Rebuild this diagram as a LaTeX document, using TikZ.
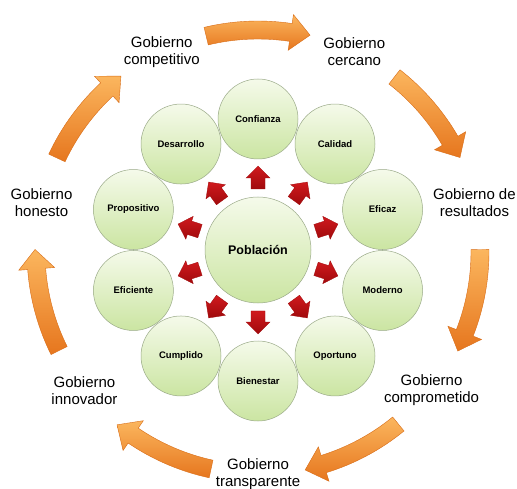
\documentclass[tikz,border=0pt]{standalone}
\usepackage{fontspec}
\setmainfont{Liberation Sans}
\usetikzlibrary{calc}
\definecolor{bubbletop}{HTML}{F5FAEA}
\definecolor{bubblebot}{HTML}{CBE5A2}
\definecolor{bubbleline}{HTML}{9AAA88}
\definecolor{orlight}{HTML}{FBB65E}
\definecolor{ordark}{HTML}{E6761E}
\definecolor{orline}{HTML}{D86C16}
\definecolor{redlight}{HTML}{D01A1E}
\definecolor{reddark}{HTML}{A00A0C}
\begin{document}
\begin{tikzpicture}[x=1pt,y=1pt,
  lab/.style={align=center, font=\fontsize{15}{17}\selectfont, text=black, inner sep=0pt},
  bubble/.style={circle, minimum size=80pt, inner sep=0pt, draw=bubbleline, line width=0.5pt,
    top color=bubbletop, bottom color=bubblebot, text=black,
    font=\fontsize{9.5}{11}\selectfont\bfseries},
  core/.style={bubble, minimum size=106pt, font=\fontsize{12.5}{14}\selectfont\bfseries},
  redarrow/.style={top color=redlight, bottom color=reddark, draw=reddark, line width=0.3pt},
  orangearrow/.style={top color=orlight, bottom color=ordark, draw=orline, line width=0.4pt}
]
\useasboundingbox (0,0) rectangle (517,488);
\fill[white] (0,0) rectangle (517,488);

\coordinate (O) at (258,236);
\coordinate (M) at (258,238);

% outer curved orange arrows
\foreach \a in {90,38.57,-12.86,-64.29,-115.71,-167.14,141.43} {
  \pgfmathsetmacro\s{\a+13.5}
  \pgfmathsetmacro\e{\a-13.5}
  \pgfmathsetmacro\b{\e+5}
  \path[orangearrow]
    ([shift={(O)}]\s:231) arc[start angle=\s, end angle=\b, radius=231]
    -- ([shift={(O)}]\b:240) -- ([shift={(O)}]\e:223) -- ([shift={(O)}]\b:204)
    -- ([shift={(O)}]\b:213) arc[start angle=\b, end angle=\s, radius=213] -- cycle;
}

% outer labels
\node[lab] (L1) at ([shift={(O)}]115.71:222) {Gobierno\\competitivo};
\node[lab] (L2) at ([shift={(O)}]64.29:222) {Gobierno\\cercano};
\node[lab] (L3) at ([shift={(O)}]12.86:222) {Gobierno de\\resultados};
\node[lab] (L4) at ([shift={(O)}]-38.57:222) {Gobierno\\comprometido};
\node[lab] (L5) at ([shift={(O)}]-90:222) {Gobierno\\transparente};
\node[lab] (L6) at ([shift={(O)}]-141.43:222) {Gobierno\\innovador};
\node[lab] (L7) at ([shift={(O)}]167.14:222) {Gobierno\\honesto};

% red block arrows
\foreach \k in {0,...,9} {
  \pgfmathsetmacro\r{90-36*\k}
  \path[redarrow, shift={(M)}, rotate=\r]
    (61,-7) -- (72,-7) -- (72,-12) -- (84,0) -- (72,12) -- (72,7) -- (61,7) -- cycle;
}

% central circle
\node[core] (P) at (M) {Población};

% ring circles
\foreach \txt [count=\i from 0] in {Calidad,Eficaz,Moderno,Oportuno,Cumplido,Eficiente,Propositivo,Desarrollo,Bienestar,Confianza} {
  \ifnum\i<4
    \pgfmathsetmacro\ang{54-36*\i}
  \else\ifnum\i<8
    \pgfmathsetmacro\ang{54-36*(\i+1)}
  \else\ifnum\i=8
    \def\ang{-90}
  \else
    \def\ang{90}
  \fi\fi\fi
  \node[bubble] (c\i) at ([shift={(M)}]\ang:131) {\txt};
}
\end{tikzpicture}
\end{document}
